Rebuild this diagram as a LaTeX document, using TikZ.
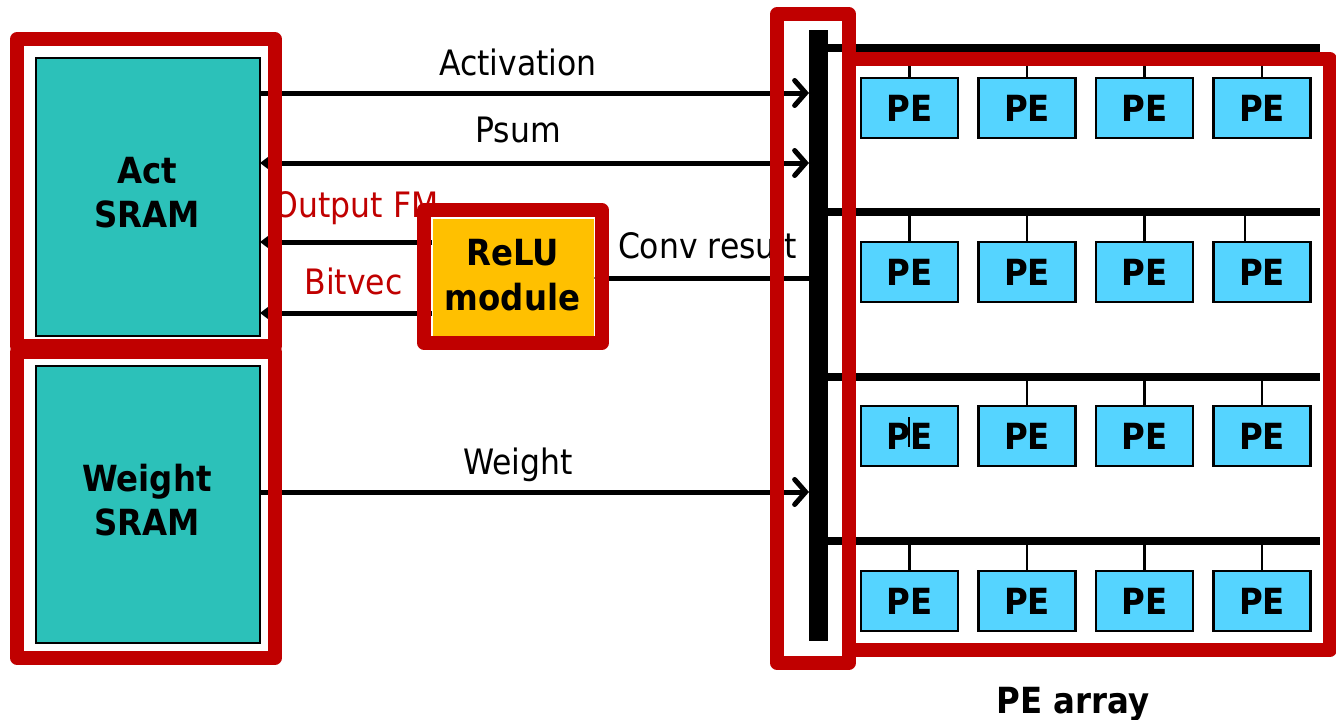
\documentclass[tikz,border=0pt]{standalone}
\usepackage{fontspec}
\setmainfont{DejaVu Sans}[FakeStretch=0.9]
\usetikzlibrary{arrows.meta}
\definecolor{frred}{HTML}{C00000}
\definecolor{tealbox}{HTML}{2CC1B9}
\definecolor{peblue}{HTML}{55D4FF}
\definecolor{reluorange}{HTML}{FFC000}
\begin{document}
\begin{tikzpicture}[x=1pt,y=-1pt,
  frame/.style={draw=frred,line width=13.5pt,line join=round},
  sram/.style={draw=black,line width=2.5pt,fill=tealbox,inner sep=0pt,outer sep=0pt,anchor=north west,minimum width=224pt,minimum height=278pt},
  pe/.style={draw=black,line width=2.5pt,fill=peblue,minimum width=97pt,minimum height=60pt,inner sep=0pt,outer sep=0pt,anchor=north west,font=\fontsize{36}{40}\selectfont\bfseries},
  lbl/.style={inner sep=0pt,anchor=base,font=\fontsize{35}{40}\selectfont},
  blbl/.style={inner sep=0pt,anchor=base,font=\fontsize{36}{40}\selectfont\bfseries},
  flow/.style={line width=5pt},
  barb/.tip={Straight Barb[length=11pt,width=25pt,line cap=round]},
  tri/.tip={Triangle[length=9pt,width=13pt]},
  busline/.style={line width=8pt},
  stub/.style={line width=2.5pt}
]
\useasboundingbox (0,0) rectangle (1336,720);

% SRAM and ReLU boxes
\node[sram] (act) at (36,58) {};
\node[sram,minimum height=277pt] (wgt) at (36,366) {};
\node[draw=white,line width=1pt,fill=reluorange,inner sep=0pt,outer sep=0pt,anchor=north west,minimum width=162pt,minimum height=118pt] (relu) at (432,218) {};

% bus
\node[fill=black,inner sep=0pt,outer sep=0pt,minimum width=19pt,minimum height=611pt,anchor=north west] (bus) at (809,30) {};

% connectors
\draw[flow,-barb] (act.east |- 0,93) -- (bus.west |- 0,93);
\draw[flow,tri-barb] (act.east |- 0,163) -- (bus.west |- 0,163);
\draw[flow,-tri] (relu.west |- 0,242) -- (act.east |- 0,242);
\draw[flow,-tri] (relu.west |- 0,313) -- (act.east |- 0,313);
\draw[flow,-{Triangle[length=6pt,width=10pt]}] (bus.west |- 0,278) -- (relu.east |- 0,278);
\draw[flow,-barb] (wgt.east |- 0,492) -- (bus.west |- 0,492);

% bus rows
\foreach \by in {48,212,377,541}
  \draw[busline] (bus.east |- 0,\by) -- (1320,\by);

% PE array
\foreach \r/\y in {1/78,2/242,3/406,4/571}
  \foreach \c/\x in {1/861,2/978.5,3/1096,4/1213.5}
    \node[pe] (p\r\c) at (\x,\y) {PE};

% stubs
\foreach \c in {1,2,3,4} \draw[stub] (p1\c.north) -- (p1\c.north |- 0,48);
\foreach \c in {1,2,3} \draw[stub] (p2\c.north) -- (p2\c.north |- 0,212);
\draw[stub] (p24.north -| 1245,0) -- (1245,212);
\foreach \c in {2,3,4} \draw[stub] (p3\c.north) -- (p3\c.north |- 0,377);
\draw[stub] (909,417) -- (909,447);
\foreach \c in {1,2,3,4} \draw[stub] (p4\c.north) -- (p4\c.north |- 0,541);

% labels
\node[blbl] (actl1) at (147,183) {Act};
\node[blbl] (actl2) at (147,227) {SRAM};
\node[blbl] (wgtl1) at (147,491) {Weight};
\node[blbl] (wgtl2) at (147,535) {SRAM};
\node[blbl] (relul1) at (512.5,265) {ReLU};
\node[blbl] (relul2) at (512.5,310) {module};
\node[lbl] (lact) at (518,75) {Activation};
\node[lbl] (lpsum) at (518,142) {Psum};
\node[lbl] (lwgt) at (518,474) {Weight};
\node[lbl,text=frred] (lofm) at (356,217) {Output FM};
\node[lbl,text=frred] (lbit) at (353.5,294) {Bitvec};
\node[lbl] (lconv) at (707.5,258) {Conv result};
\node[blbl] (lpea) at (1073,713) {PE array};

% red frames
\draw[frame] (17,39) rectangle (275,346);
\draw[frame] (17,352) rectangle (275,658);
\draw[frame] (424,210) rectangle (602,343);
\draw[frame] (777,14) rectangle (849,663);
\draw[frame] (849,59) rectangle (1330,650);
\end{tikzpicture}
\end{document}
